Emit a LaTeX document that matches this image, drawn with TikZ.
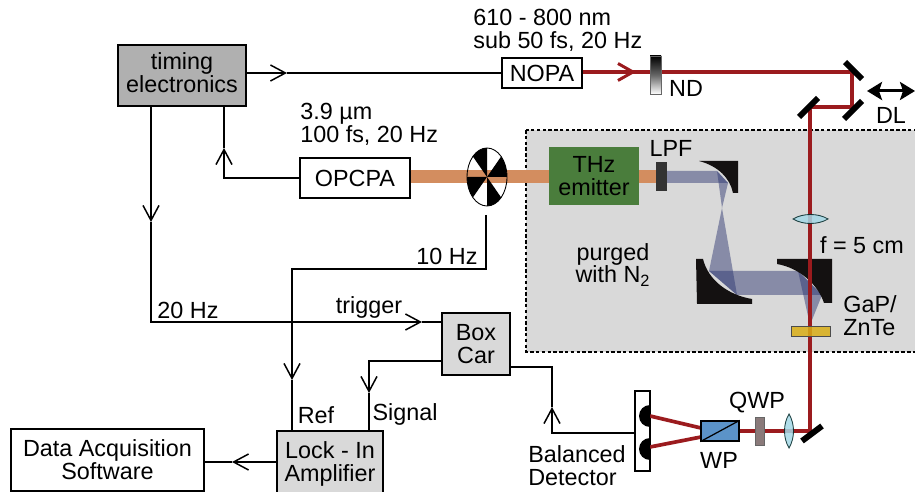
\documentclass[tikz,border=0pt]{standalone}
\usepackage{fontspec}
\setmainfont{Liberation Sans}
\usepackage{xcolor}
\usetikzlibrary{arrows.meta}
\definecolor{beamred}{HTML}{9B1B1E}
\definecolor{beamorange}{HTML}{D38D5F}
\definecolor{beamblue}{HTML}{2B3570}
\definecolor{purgegray}{HTML}{D9D9D9}
\definecolor{emitgreen}{HTML}{4A7D3C}
\definecolor{lensblue}{HTML}{A5D8E6}
\definecolor{mirrorblack}{HTML}{141111}
\definecolor{wpblue}{HTML}{5B93C8}
\definecolor{qwpgray}{HTML}{8A7A7A}
\definecolor{crystalyellow}{HTML}{D9AE17}
\tikzset{
    labeltext/.style={font=\fontsize{13.3}{13}\selectfont, align=center, inner sep=0pt},
    devbox/.style={labeltext, draw=black, line width=.85pt, rectangle},
    redbeam/.style={draw=beamred, line width=2.8pt},
    orangebeam/.style={draw=beamorange, line width=7.4pt},
    bluebeam/.style={fill=beamblue, opacity=.47},
    mirrorbar/.style={draw=black, line width=3.4pt},
    curvedmirror/.style={fill=mirrorblack},
    lensshape/.style={fill=lensblue, draw=black!70!teal, line width=.5pt, opacity=.85}
}

\begin{document}
\begin{tikzpicture}[x=.02cm, y=-.02cm]
    \useasboundingbox (0,0) rectangle (915,492);

    % purged box goes first, everything sits on top of it
    \draw [fill=purgegray, line width=1pt, dash pattern=on 2pt off 1.3pt] (526,130) rectangle (917,352);

    \begin{scope}[every node/.style={devbox}]
        \node [fill=black!31, minimum width=2.56cm, minimum height=1.22cm] (timing) at (182,75.5) {timing\\electronics\rule[-.12cm]{0pt}{0pt}};
        \node [fill=white, minimum width=1.6cm, minimum height=.6cm] (nopa) at (542,73) {NOPA};
        \node [fill=white, minimum width=2.2cm, minimum height=.8cm] (opcpa) at (355,178) {OPCPA};
        \node [fill=purgegray, minimum width=1.36cm, minimum height=1.24cm] (boxcar) at (476,344) {Box\\Car};
        \node [fill=purgegray, minimum width=2.12cm, minimum height=1.32cm] (lockin) at (330,464) {Lock - In\\Amplifier};
        \node [fill=white, minimum width=3.86cm, minimum height=1.24cm] (data) at (107.5,460) {Data Acquisition\\Software};
        \node [fill=white, minimum width=.3cm, minimum height=1.6cm] (det) at (642.5,431) {};
    \end{scope}

    \coordinate (m1) at (852,72);
    \coordinate (m2) at (852,107);
    \coordinate (m3) at (810,107);
    \coordinate (m4) at (810,431);
    \coordinate (redtip) at (636,72);
    \coordinate (chopper) at (487,177);

    % chopper disc, the orange beam runs between white and black sectors
    \fill [white] (chopper) ellipse [x radius=20, y radius=29];
    \node [fill=emitgreen, labeltext, minimum width=1.8cm, minimum height=1.16cm] (emitter) at (594,176) {THz\\emitter};
    \draw [orangebeam] (opcpa.east |- chopper) -- (emitter.west |- chopper);
    \draw [orangebeam] (emitter.east |- chopper) -- (657,177);
    \begin{scope}[shift={(chopper)}, xscale=20, yscale=-29]
        \foreach \ang in {0,90,180,270} {
            \fill [black] (0,0) -- (\ang:1) arc (\ang:\ang+45:1) -- cycle;
        }
        \draw [line width=.5pt] (0,0) circle (1);
    \end{scope}

    % THz beam
    \fill [bluebeam] (667,171) -- (717,171) -- (728,183) -- (667,183) -- cycle;
    \fill [bluebeam] (717,171) -- (728,183) -- (722,208) -- cycle;
    \fill [bluebeam] (722,208) -- (709,271) -- (737,295) -- cycle;
    \fill [bluebeam] (709,271) -- (798,271) -- (822,295) -- (737,295) -- cycle;
    \fill [bluebeam] (798,271) -- (822,295) -- (810,325) -- cycle;

    \fill [curvedmirror] (699,161) .. controls (718,166) and (730,178) .. (733,193) -- (738,193) -- (738,161) -- cycle;
    \fill [curvedmirror] (696,259) -- (703,259) .. controls (708,280) and (728,295) .. (752,299) -- (752,304) -- (697,304) -- cycle;
    \fill [curvedmirror] (777,259) -- (832,259) -- (832,303) -- (824,303) .. controls (818,285) and (800,268) .. (777,264) -- cycle;

    \node [fill=black!80, minimum width=.22cm, minimum height=.58cm, inner sep=0pt] (lpf) at (661.5,176.5) {};

    % probe beam
    \draw [redbeam] (nopa.east |- m1) -- (m1) -- (m2) -- (m3) -- (m4) -- (701,431);
    \draw [draw=beamred, line width=2.1pt] (701,428) -- (650,416);
    \draw [draw=beamred, line width=2.1pt] (701,437) -- (650,447);
    \draw [draw=beamred, line width=1.7pt, -{Straight Barb[length=.3cm, width=.34cm]}] (nopa.east |- redtip) -- (redtip);

    \draw [mirrorbar] (845,62) -- (862,79);
    \draw [mirrorbar] (844,119) -- (862,101);
    \draw [mirrorbar] (799,117) -- (818,98);
    \draw [mirrorbar] (802,441) -- (822,426);

    \node [top color=black, bottom color=white, middle color=black!60, draw=black!60, line width=.5pt, minimum width=.22cm, minimum height=.76cm, inner sep=0pt] (nd) at (655.5,75) {};
    \node [fill=qwpgray, draw=black!60, line width=.5pt, minimum width=.18cm, minimum height=.56cm, inner sep=0pt] (qwp) at (759.5,431) {};
    \node [fill=wpblue, draw=black, line width=.7pt, minimum width=.76cm, minimum height=.4cm, inner sep=0pt] (wp) at (720,431) {};
    \draw [line width=.7pt] (wp.south west) -- (wp.north east);
    \node [fill=crystalyellow, fill opacity=.85, draw=black!70, line width=.5pt, minimum width=.78cm, minimum height=.2cm, inner sep=0pt] (crystal) at (810.5,331) {};

    \draw [lensshape] (793,219) .. controls (803,213) and (818,213) .. (828,219) .. controls (818,225) and (803,225) .. (793,219) -- cycle;
    \draw [lensshape] (789,414) .. controls (783,424) and (783,438) .. (789,448) .. controls (795,438) and (795,424) .. (789,414) -- cycle;

    \fill [black] (650,427) arc (90:270:11) -- cycle;
    \fill [black] (650,460) arc (90:270:11) -- cycle;

    % arrow tips sit in the middle of the wires
    \coordinate (tipnopa) at (287,73);
    \coordinate (tiptwenty) at (151,222);
    \coordinate (tiptrig) at (422,322);
    \coordinate (tipopcpa) at (224,148);
    \coordinate (chopend) at (486,215);
    \coordinate (refturn) at (292,269);
    \coordinate (tipref) at (292,380);
    \coordinate (sigturn) at (369,361);
    \coordinate (tipsig) at (369,393);
    \coordinate (detturn) at (552,433);
    \coordinate (tipdet) at (552,407);
    \coordinate (boxturn) at (552,367);
    \coordinate (tipdata) at (232,462);

    \begin{scope}[>={Straight Barb[length=.3cm, width=.32cm]},
                line width=.85pt]
        \draw [->] (timing.east |- tipnopa) -- (tipnopa);
        \draw (tipnopa) -- (nopa.west |- tipnopa);
        \draw [->] (timing.south -| tiptwenty) -- (tiptwenty);
        \draw [->] (tiptwenty) |- (tiptrig);
        \draw (tiptrig) -- (boxcar.west |- tiptrig);
        \draw [->] (opcpa.west) -| (tipopcpa);
        \draw (tipopcpa) -- (timing.south -| tipopcpa);
        \draw [->] (chopend) |- (refturn) -- (tipref);
        \draw (tipref) -- (lockin.north -| tipref);
        \draw [->] (boxcar.west |- sigturn) -- (sigturn) -- (tipsig);
        \draw (tipsig) -- (lockin.north -| tipsig);
        \draw [->] (det.west |- detturn) -- (detturn) -- (tipdet);
        \draw (tipdet) -- (boxturn) -- (boxcar.east |- boxturn);
        \draw [->] (lockin.west |- tipdata) -- (tipdata);
        \draw (tipdata) -- (data.east |- tipdata);
        \draw [<->, >={Stealth[length=.3cm, width=.36cm, inset=.06cm]}, line width=1.7pt] (867,91) coordinate (dlleft) -- (915,91) coordinate (dlright);
    \end{scope}

    \begin{scope}[every node/.style={labeltext}]
        \node [anchor=west, align=left] (nopalabel) at (473,30) {610 - 800 nm\\sub 50 fs, 20 Hz};
        \node [anchor=west, align=left] (opcpalabel) at (300,124.5) {3.9 µm\\100 fs, 20 Hz};
        \node (ndlabel) at (686,88) {ND};
        \node (dllabel) at (891,115) {DL};
        \node (lpflabel) at (671,148) {LPF};
        \node (fivecm) at (862,245) {f = 5 cm};
        \node [anchor=west, align=left] (crystallabel) at (843,316) {GaP/\\ZnTe};
        \node (purged) at (613,265) {purged\\with N\textsubscript{2}};
        \node (tenhz) at (447,256) {10 Hz};
        \node (twentyhz) at (188,310) {20 Hz};
        \node (trigger) at (369,307) {trigger};
        \node (reflabel) at (316,415) {Ref};
        \node (signal) at (405,414) {Signal};
        \node (qwplabel) at (757,403) {QWP};
        \node (wplabel) at (719,460) {WP};
        \node [align=left] (balanced) at (577,466) {Balanced\\Detector};
    \end{scope}
\end{tikzpicture}
\end{document}
